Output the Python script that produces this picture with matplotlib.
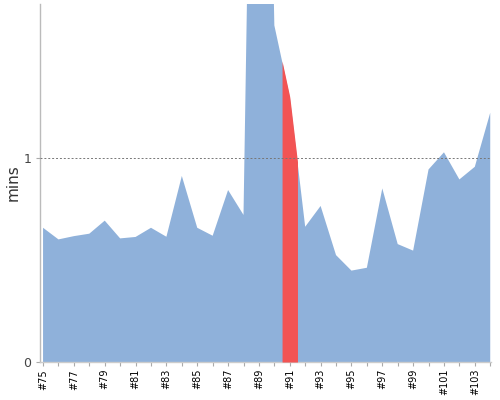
import numpy as np
import matplotlib
matplotlib.use("Agg")
import matplotlib.pyplot as plt

builds = list(range(75, 105))
mins = [0.658, 0.601, 0.617, 0.629, 0.693, 0.606, 0.613, 0.658, 0.614, 0.912,
        0.658, 0.619, 0.843, 0.721, 5.4, 1.65, 1.30, 0.663, 0.765, 0.524,
        0.448, 0.462, 0.851, 0.578, 0.546, 0.944, 1.028, 0.895, 0.957, 1.222]
highlight = 91
tick_labels = ["#%d" % b for b in builds]

blue = "#8fb1da"
red = "#f25454"

fig = plt.figure(figsize=(5, 4), dpi=100)
ax = fig.add_axes([0.079, 0.095, 0.903, 0.895])

x = np.array(builds, dtype=float)
y = np.array(mins)
ax.fill_between(x, 0, y, color=blue, linewidth=0, zorder=2)

hx = np.linspace(highlight - 0.5, highlight + 0.5, 50)
hy = np.interp(hx, x, y)
ax.fill_between(hx, 0, hy, color=red, linewidth=0, zorder=3)

ax.axhline(1, color="#777777", linestyle=(0, (2, 2)), linewidth=0.7, zorder=4)

ax.set_xlim(74.77, 104.05)
ax.set_ylim(0, 1.755)

ax.set_xticks(x)
ax.set_xticklabels([t if i % 2 == 0 else "" for i, t in enumerate(tick_labels)],
                   rotation=90, fontsize=7, color="black")
ax.set_yticks([0, 1])
ax.set_yticklabels(["0", "1"], fontsize=9, color="#444444")
ax.tick_params(axis="x", length=3, color="#aaaaaa", pad=2)
ax.tick_params(axis="y", length=3, color="#aaaaaa", pad=3)

for s in ["top", "right"]:
    ax.spines[s].set_visible(False)
ax.spines["left"].set_color("#bbbbbb")
ax.spines["bottom"].set_color("#cccccc")
ax.spines["left"].set_linewidth(1)
ax.spines["bottom"].set_linewidth(1)

ax.set_ylabel("mins", fontsize=11, color="#333333", labelpad=1.5)

fig.savefig("out.png", dpi=100)
